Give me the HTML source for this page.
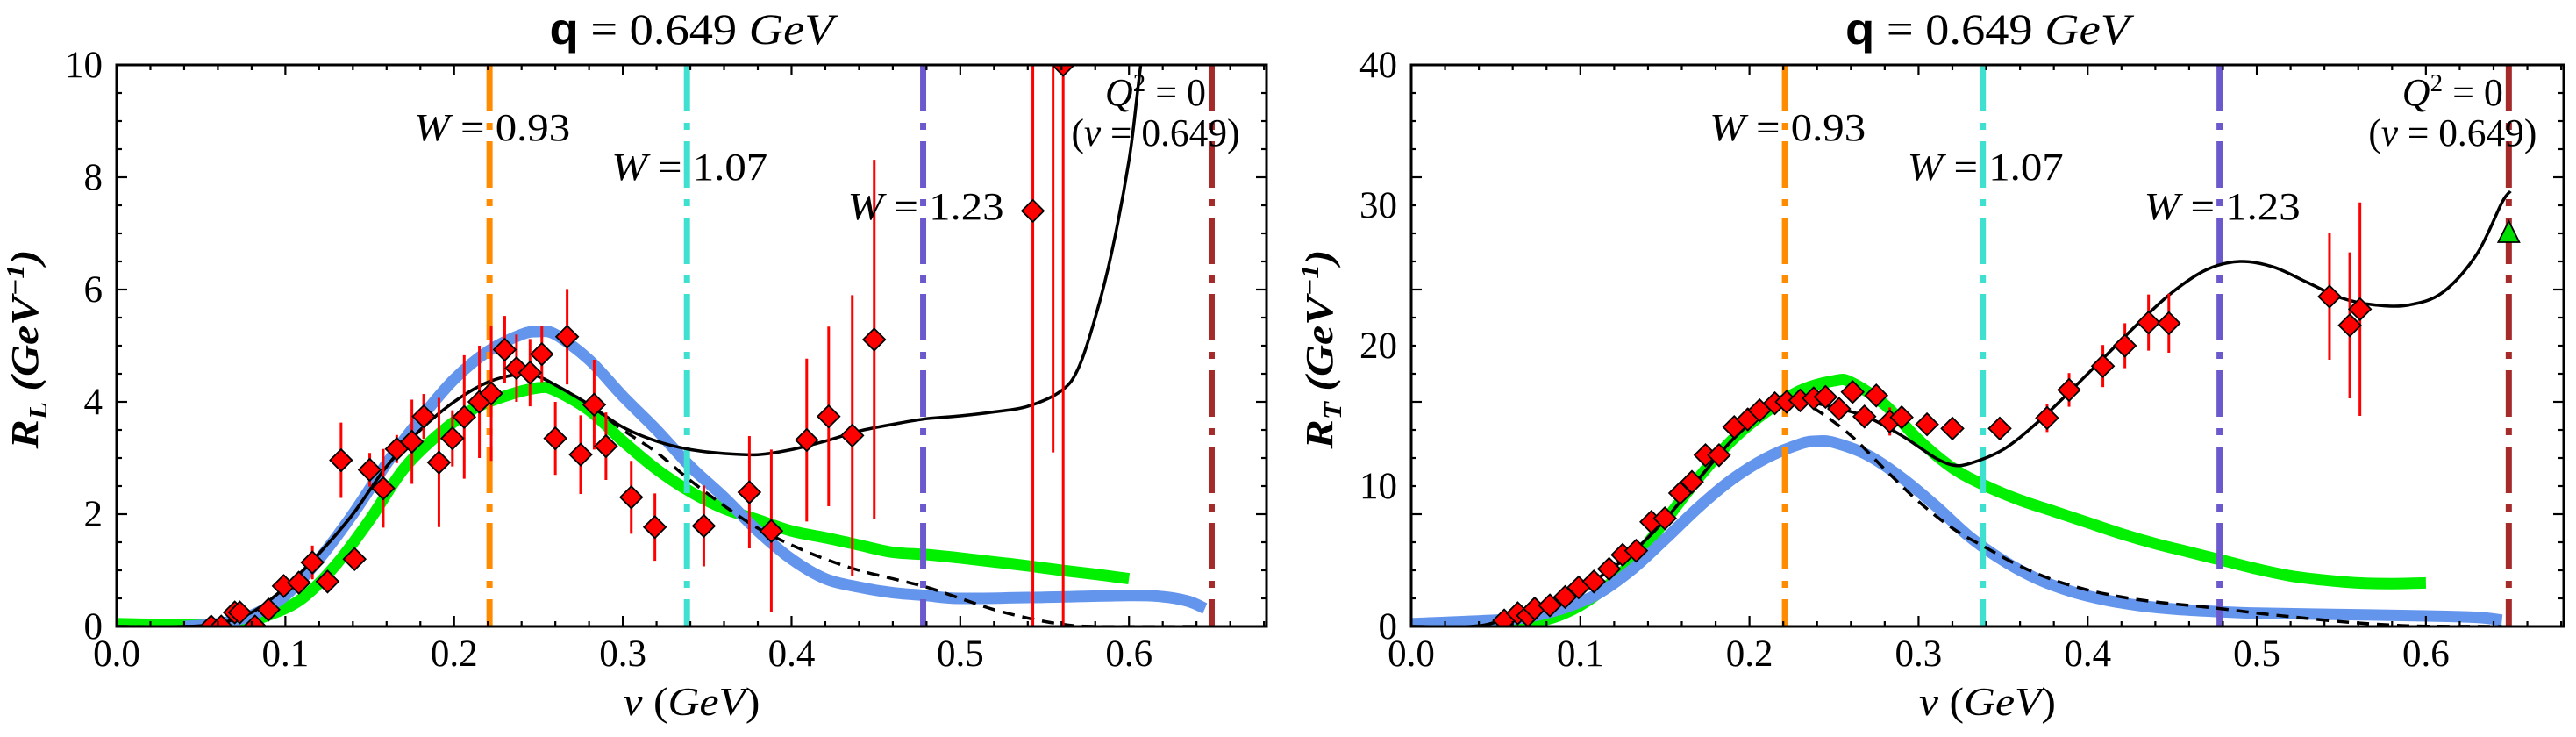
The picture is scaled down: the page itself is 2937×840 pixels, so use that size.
<!DOCTYPE html>
<html><head><meta charset="utf-8"><style>
html,body{margin:0;padding:0;background:#fff;}
svg{display:block;font-family:"Liberation Serif",serif;}
</style></head><body>
<svg id="chart" width="2937" height="840" viewBox="0 0 2937 840" xmlns="http://www.w3.org/2000/svg"></svg>
<script>
// ---------- data: left panel (R_L) ----------
const nuL = [0.056,0.062,0.070,0.073,0.082,0.090,0.099,0.108,0.116,0.125,0.133,0.141,0.150,0.158,0.166,0.175,0.182,0.191,0.199,0.206,0.215,0.222,0.230,0.237,0.245,0.252,0.260,0.267,0.275,0.283,0.290,0.305,0.319,0.348,0.375,0.388,0.409,0.422,0.436,0.449,0.543,0.555,0.561];
const rL  = [0,0,0.25,0.25,0,0.3,0.72,0.78,1.14,0.8,2.96,1.2,2.79,2.46,3.16,3.29,3.74,2.92,3.35,3.73,4.0,4.15,4.93,4.6,4.52,4.85,3.35,5.16,3.06,3.95,3.21,2.3,1.77,1.79,2.39,1.7,3.32,3.74,3.4,5.11,7.4,13,10];
const eL  = [0.05,0.05,0.1,0.1,0.05,0.15,0.2,0.2,0.3,0.15,0.67,0.2,0.3,0.7,0.25,0.75,0.4,1.15,0.5,1.1,1.0,1.2,0.6,0.6,0.6,0.5,0.65,0.85,0.7,0.8,0.6,0.65,0.6,0.72,1.0,1.45,1.45,1.6,2.5,3.2,7.5,9.9,10];
const blackLx = [0.0,0.04,0.06,0.08,0.10,0.12,0.14,0.16,0.18,0.20,0.22,0.24,0.25,0.26,0.28,0.30,0.32,0.34,0.36,0.38,0.40,0.42,0.44,0.46,0.48,0.50,0.52,0.54,0.56,0.57,0.58,0.59,0.60,0.605,0.61];
const blackLy = [0,0,0.05,0.25,0.7,1.3,2.0,2.85,3.5,4.0,4.35,4.5,4.45,4.3,3.95,3.55,3.3,3.15,3.08,3.06,3.15,3.3,3.48,3.6,3.7,3.75,3.82,3.92,4.2,4.6,5.5,6.7,8.3,9.5,10.8];
const dashLx = [0.0,0.04,0.06,0.08,0.10,0.12,0.14,0.16,0.18,0.20,0.22,0.24,0.25,0.26,0.28,0.30,0.32,0.34,0.36,0.38,0.40,0.42,0.44,0.46,0.48,0.50,0.52,0.54,0.56,0.58,0.64];
const dashLy = [0,0,0.05,0.25,0.7,1.3,2.0,2.85,3.5,4.0,4.35,4.5,4.45,4.3,3.95,3.5,3.1,2.6,2.15,1.75,1.45,1.2,1.0,0.85,0.7,0.5,0.3,0.15,0.04,0,0];
const blueLx = [0.04,0.06,0.08,0.10,0.12,0.14,0.16,0.18,0.20,0.22,0.24,0.25,0.26,0.28,0.30,0.32,0.34,0.36,0.38,0.40,0.42,0.44,0.46,0.48,0.50,0.55,0.60,0.62,0.635,0.645];
const blueLy = [0,0.05,0.2,0.55,1.2,2.0,2.9,3.7,4.4,4.9,5.2,5.25,5.2,4.75,4.1,3.5,2.85,2.3,1.7,1.2,0.85,0.7,0.6,0.55,0.5,0.52,0.55,0.53,0.45,0.32];
const greenLx = [0.0,0.04,0.07,0.09,0.11,0.13,0.15,0.17,0.19,0.21,0.23,0.25,0.26,0.28,0.30,0.32,0.34,0.36,0.38,0.40,0.42,0.44,0.46,0.48,0.50,0.52,0.54,0.56,0.58,0.60];
const greenLy = [0.05,0.03,0.05,0.2,0.5,1.1,1.9,2.8,3.4,3.85,4.1,4.25,4.2,3.85,3.3,2.8,2.4,2.1,1.9,1.7,1.58,1.45,1.32,1.28,1.22,1.15,1.08,1.0,0.93,0.85];
const yTicksL = [0,2,4,6,8,10];

// ---------- data: right panel (R_T) ----------
const nuT = [0.055,0.063,0.069,0.073,0.082,0.091,0.099,0.108,0.117,0.125,0.133,0.142,0.150,0.159,0.166,0.174,0.182,0.191,0.199,0.206,0.215,0.222,0.230,0.238,0.245,0.253,0.261,0.268,0.275,0.283,0.290,0.305,0.320,0.348,0.376,0.389,0.409,0.422,0.436,0.448,0.543,0.555,0.561];
const rT  = [0.43,0.94,0.77,1.27,1.5,2.1,2.78,3.2,4.1,5.1,5.4,7.45,7.7,9.5,10.3,12.2,12.2,14.2,14.75,15.4,15.9,16.0,16.1,16.25,16.35,15.5,16.7,14.95,16.45,14.6,14.9,14.4,14.1,14.1,14.85,16.85,18.55,20.0,21.65,21.6,23.5,21.45,22.6];
const eT  = [0.3,0.3,0.3,0.3,0.3,0.3,0.4,0.4,0.4,0.4,0.4,0.4,0.4,0.4,0.4,0.4,0.4,0.4,0.8,0.4,0.4,0.4,0.4,0.4,0.4,0.4,0.4,0.4,0.6,1.0,0.4,0.4,0.4,0.4,1.0,1.2,1.5,1.6,2.0,2.1,4.5,5.2,7.6];
const triNu = [0.649];
const triR = [28.0];
const blackTx = [0.0,0.035,0.05,0.07,0.09,0.11,0.13,0.15,0.17,0.19,0.21,0.23,0.25,0.27,0.29,0.30,0.31,0.32,0.33,0.35,0.37,0.39,0.41,0.43,0.45,0.47,0.49,0.51,0.53,0.55,0.57,0.59,0.61,0.63,0.645,0.65];
const blackTy = [0,0,0.3,1.0,2.0,3.4,5.2,7.6,10.5,13.3,15.3,16.0,15.6,14.9,13.6,12.8,12.0,11.5,11.6,12.6,14.5,16.8,19.2,21.6,23.8,25.4,26.0,25.6,24.5,23.4,22.9,22.9,23.8,26.5,30.2,31.0];
const dashTx = [0.0,0.035,0.05,0.07,0.09,0.11,0.13,0.15,0.17,0.19,0.21,0.23,0.24,0.26,0.28,0.30,0.32,0.34,0.36,0.38,0.40,0.42,0.44,0.46,0.48,0.50,0.52,0.54,0.56,0.58,0.60,0.645];
const dashTy = [0,0,0.3,1.0,2.0,3.4,5.2,7.6,10.5,13.3,15.3,15.9,15.4,13.6,11.2,8.9,7.0,5.6,4.3,3.3,2.6,2.1,1.75,1.5,1.25,0.95,0.7,0.45,0.25,0.1,0.02,0];
const blueTx = [0.0,0.05,0.07,0.09,0.11,0.13,0.15,0.17,0.19,0.21,0.23,0.24,0.25,0.27,0.29,0.31,0.33,0.35,0.37,0.39,0.41,0.43,0.45,0.47,0.50,0.55,0.60,0.63,0.645];
const blueTy = [0.2,0.45,0.7,1.3,2.3,4.0,6.2,8.5,10.5,12.0,13.0,13.2,13.1,12.2,10.6,8.6,6.4,4.7,3.4,2.5,1.9,1.5,1.25,1.1,0.95,0.85,0.75,0.65,0.45];
const greenTx = [0.0,0.04,0.07,0.09,0.11,0.13,0.15,0.17,0.19,0.21,0.23,0.25,0.26,0.28,0.30,0.32,0.34,0.36,0.38,0.40,0.42,0.44,0.46,0.48,0.50,0.52,0.54,0.56,0.58,0.60];
const greenTy = [0.15,0.2,0.3,0.9,2.3,4.5,7.5,10.6,13.3,15.3,16.8,17.5,17.4,15.8,13.3,11.3,10.0,9.0,8.2,7.4,6.6,5.9,5.3,4.7,4.1,3.6,3.3,3.1,3.05,3.1];
const yTicksT = [0,10,20,30,40];

const xTicks = [0.0,0.1,0.2,0.3,0.4,0.5,0.6];
const xTickLabels = ["0.0","0.1","0.2","0.3","0.4","0.5","0.6"];
const wNu = [0.221,0.338,0.478,0.649];
const wLabels = ["0.93","1.07","1.23"];

// ---------- drawing ----------
const NS = "http://www.w3.org/2000/svg";
const svg = document.getElementById('chart');
function mk(tag, attrs, parent){
  const e = document.createElementNS(NS, tag);
  for (const k in attrs) e.setAttribute(k, attrs[k]);
  (parent||svg).appendChild(e);
  return e;
}
function smoothPath(pts){
  let d = "M"+pts[0][0].toFixed(1)+","+pts[0][1].toFixed(1);
  for (let i=0;i<pts.length-1;i++){
    const p0=pts[i-1]||pts[i], p1=pts[i], p2=pts[i+1], p3=pts[i+2]||p2;
    const c1=[p1[0]+(p2[0]-p0[0])/6, p1[1]+(p2[1]-p0[1])/6];
    const c2=[p2[0]-(p3[0]-p1[0])/6, p2[1]-(p3[1]-p1[1])/6];
    d+=" C"+c1[0].toFixed(1)+","+c1[1].toFixed(1)+" "+c2[0].toFixed(1)+","+c2[1].toFixed(1)+" "+p2[0].toFixed(1)+","+p2[1].toFixed(1);
  }
  return d;
}

function panel(cfg){
  const L=cfg.left, R=cfg.right, T=74, B=714;
  const xmax=0.6815;
  const X = v => L + v/xmax*(R-L);
  const Y = v => B - v/cfg.ymax*(B-T);
  const g = mk('g',{});
  
  
  const cid = 'clip-'+cfg.name;
  const defs = mk('defs',{},g);
  const cp = mk('clipPath',{id:cid},defs);
  mk('rect',{x:L,y:T,width:R-L,height:B-T},cp);
  const plot = mk('g',{'clip-path':'url(#'+cid+')'},g);
  
  

  function curve(xs, ys, color, w, name, dash){
    const pts = xs.map((v,i)=>[X(v),Y(ys[i])]);
    const p = mk('path',{d:smoothPath(pts),fill:'none',stroke:color,'stroke-width':w,'stroke-linejoin':'round'},plot);
    if (dash) p.setAttribute('stroke-dasharray',dash);
    
    
  }
  curve(cfg.gx, cfg.gy, '#00f000', 13, 'green-model-curve');
  curve(cfg.bx, cfg.by, '#6495ed', 13, 'blue-model-curve');

  const vcol = ['#ff8c00','#40e0d0','#6a5acd','#a52a2a'];
  wNu.forEach((v,i)=>{
    const l = mk('line',{x1:X(v),x2:X(v),y1:T,y2:B,stroke:vcol[i],'stroke-width':7,'stroke-dasharray':'53,13,8,13'},plot);
    
    
  });

  curve(cfg.dx, cfg.dy, '#000', 3.5, 'black-dashed-curve', '14,9');
  curve(cfg.kx, cfg.ky, '#000', 3.5, 'black-solid-curve');

  cfg.nu.forEach((v,i)=>{
    const e = mk('line',{x1:X(v),x2:X(v),y1:Y(cfg.r[i]-cfg.e[i]),y2:Y(cfg.r[i]+cfg.e[i]),stroke:'#ff0000','stroke-width':3},plot);
    
    
  });
  cfg.nu.forEach((v,i)=>{
    const cx=X(v), cy=Y(cfg.r[i]), s=12.5;
    const d = mk('polygon',{points:`${cx},${cy-s} ${cx+s},${cy} ${cx},${cy+s} ${cx-s},${cy}`,fill:'#ff0000',stroke:'#000','stroke-width':1.8},plot);
    
    
  });
  if (cfg.tri){
    triNu.forEach((v,i)=>{
      const cx=X(v), cy=Y(triR[i]);
      const t = mk('polygon',{points:`${cx},${cy-14} ${cx+12},${cy+10} ${cx-12},${cy+10}`,fill:'#00e000',stroke:'#000','stroke-width':1.8},plot);
      
      
    });
  }

  const fr = mk('rect',{x:L,y:T,width:R-L,height:B-T,fill:'none',stroke:'#000','stroke-width':3},g);
  
  

  for (let k=0;k<=34;k++){
    const v=k*0.02; if (v>xmax) break;
    const major = (k%5===0);
    const len = major?12:6;
    mk('line',{x1:X(v),x2:X(v),y1:B,y2:B-len,stroke:'#000','stroke-width':2.2},g);
    mk('line',{x1:X(v),x2:X(v),y1:T,y2:T+len,stroke:'#000','stroke-width':2.2},g);
  }
  xTicks.forEach((v,i)=>{
    const t = mk('text',{x:X(v),y:759,'text-anchor':'middle','font-size':43},g);
    t.textContent = xTickLabels[i];
    
    
  });
  const minor = cfg.ymax/20;
  for (let k=0;k<=20;k++){
    const v=k*minor, major=(k%4===0), len=major?12:6;
    mk('line',{x1:L,x2:L+len,y1:Y(v),y2:Y(v),stroke:'#000','stroke-width':2.2},g);
    mk('line',{x1:R,x2:R-len,y1:Y(v),y2:Y(v),stroke:'#000','stroke-width':2.2},g);
  }
  cfg.yt.forEach(v=>{
    const t = mk('text',{x:L-16,y:Y(v)+14,'text-anchor':'end','font-size':43},g);
    t.textContent = String(v);
    
    
  });

  const ly = [160,205,250];
  wLabels.forEach((s,i)=>{
    const t = mk('text',{x:X(wNu[i])+3,y:ly[i],'text-anchor':'middle','font-size':44,textLength:178,lengthAdjust:'spacingAndGlyphs'},g);
    t.innerHTML = '<tspan font-style="italic">W</tspan> = '+s;
    
    
  });
  const q1 = mk('text',{x:X(wNu[3])-64,y:120,'text-anchor':'middle','font-size':44},g);
  q1.innerHTML = '<tspan font-style="italic">Q</tspan><tspan dy="-16" font-size="29">2</tspan><tspan dy="16"> = 0</tspan>';
  
  
  const q2 = mk('text',{x:X(wNu[3])-64,y:166,'text-anchor':'middle','font-size':44,textLength:192,lengthAdjust:'spacingAndGlyphs'},g);
  q2.innerHTML = '(<tspan font-style="italic">ν</tspan> = 0.649)';
  
  

  const cx=(L+R)/2;
  const ti = mk('text',{x:cx,y:50,'text-anchor':'middle','font-size':50,textLength:324,lengthAdjust:'spacingAndGlyphs'},g);
  ti.innerHTML = '<tspan font-weight="bold" font-family="Liberation Sans, sans-serif">q</tspan> = 0.649 <tspan font-style="italic">GeV</tspan>';
  
  
  const xl = mk('text',{x:cx,y:815,'text-anchor':'middle','font-size':46,textLength:156,lengthAdjust:'spacingAndGlyphs'},g);
  xl.innerHTML = '<tspan font-style="italic">ν</tspan> (<tspan font-style="italic">GeV</tspan>)';
  
  
  const yl = mk('text',{x:0,y:0,'text-anchor':'middle','font-size':44,'font-style':'italic','font-weight':'bold',textLength:227,lengthAdjust:'spacingAndGlyphs',transform:`translate(${L-90},398) rotate(-90)`},g);
  yl.innerHTML = 'R<tspan dy="10" font-size="29">'+cfg.sub+'</tspan><tspan dy="-10">  (GeV</tspan><tspan dy="-16" font-size="29">−1</tspan><tspan dy="16">)</tspan>';
  
  
}

panel({name:'rl-panel',left:133,right:1444,ymax:10,yt:yTicksL,sub:'L',
  nu:nuL,r:rL,e:eL,kx:blackLx,ky:blackLy,dx:dashLx,dy:dashLy,bx:blueLx,by:blueLy,gx:greenLx,gy:greenLy,tri:false});
panel({name:'rt-panel',left:1609,right:2923,ymax:40,yt:yTicksT,sub:'T',
  nu:nuT,r:rT,e:eT,kx:blackTx,ky:blackTy,dx:dashTx,dy:dashTy,bx:blueTx,by:blueTy,gx:greenTx,gy:greenTy,tri:true});
</script>
</body></html>
